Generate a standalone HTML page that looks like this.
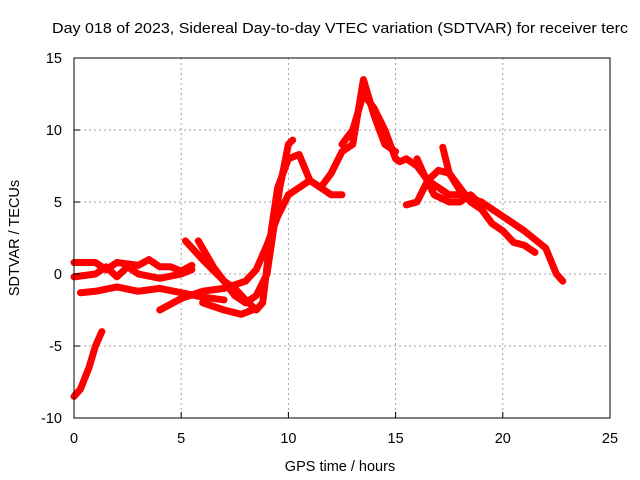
<!DOCTYPE html>
<html><head><meta charset="utf-8"><style>
body{margin:0;background:#fff;}
svg{display:block;font-family:"Liberation Sans",sans-serif;}
</style></head><body>
<svg id="chart" width="640" height="480" viewBox="0 0 640 480">
<text x="52" y="33" font-size="14.5" fill="#000" textLength="576" lengthAdjust="spacingAndGlyphs">Day 018 of 2023, Sidereal Day-to-day VTEC variation (SDTVAR) for receiver terc</text>
<g id="grid"></g>
<g id="series"></g>
<rect x="74" y="58" width="536" height="360" fill="none" stroke="#000" stroke-width="1"/>
<g id="ticks"></g>
<text x="340" y="471" font-size="14.5" text-anchor="middle">GPS time / hours</text>
<text transform="translate(19,238) rotate(-90)" font-size="14.5" text-anchor="middle">SDTVAR / TECUs</text>
</svg>
<script>
const xTicks=[0,5,10,15,20,25];
const yTicks=[-10,-5,0,5,10,15];
const series1=[[0,-8.5],[0.3,-8],[0.7,-6.5],[1.0,-5],[1.3,-4]];
const series2=[[0,0.8],[1,0.8],[1.5,0.3],[2,0.8],[3,0.6],[3.5,1],[4,0.5],[4.5,0.5],[5,0.2],[5.5,0.6]];
const series3=[[0,-0.2],[1,0],[1.5,0.5],[2,-0.2],[2.5,0.5],[3,0],[4,-0.3],[5,0],[5.5,0.3]];
const series4=[[0.3,-1.3],[1,-1.2],[2,-0.9],[3,-1.2],[4,-1.0],[5,-1.3],[6,-1.6],[7,-1.8]];
const series5=[[4,-2.5],[5,-1.7],[6,-1.2],[7,-1.0],[8,-0.5],[8.5,0.3],[9,2],[9.5,4],[10,5.5],[10.5,6],[11,6.5],[11.5,6],[12,5.5],[12.5,5.5]];
const series6=[[5.2,2.3],[6,1],[7,-0.5],[7.5,-1.5],[8,-2],[8.5,-1.5],[9,0],[9.3,3],[9.6,6],[10,9],[10.2,9.3]];
const series7=[[5.8,2.3],[6.5,0.5],[7,-0.5],[7.5,-1],[8,-1.8],[8.5,-2.5],[8.8,-2],[9.2,3],[9.5,6],[10,8],[10.5,8.3],[11,6.5],[11.5,6],[12,7],[12.5,8.5],[13,9],[13.5,13.5],[14,11],[14.5,9],[15,8.5]];
const series8=[[6,-2],[7,-2.5],[7.8,-2.8],[8.5,-2.4]];
const series9=[[12.5,9],[13,10],[13.5,12.5],[14,11.5],[14.5,10],[15,8],[15.2,7.8],[15.5,8],[16,7.5],[16.5,6.5],[17,6],[17.5,5.5],[18,5.5],[19,5],[20,4],[21,3],[22,1.8],[22.5,0],[22.8,-0.5]];
const series10=[[15.5,4.8],[16,5],[16.5,6.5],[17,7.2],[17.5,7],[18,6],[18.5,5],[19,4.5],[19.5,3.5],[20,3],[20.5,2.2],[21,2],[21.5,1.5]];
const series11=[[17.2,8.8],[17.5,7],[18,5.8]];
const series12=[[16,8],[16.3,7],[16.8,5.5],[17.5,5],[18,5],[18.5,5.5],[19,4.8]];
const allSeries=[series1,series2,series3,series4,series5,series6,series7,series8,series9,series10,series11,series12];
const X=v=>74+(v-0)*536/25;
const Y=v=>418-(v+10)*360/25;
const NS="http://www.w3.org/2000/svg";
const grid=document.getElementById('grid'),ticks=document.getElementById('ticks'),sg=document.getElementById('series');
function mk(t,a,p){const e=document.createElementNS(NS,t);for(const k in a)e.setAttribute(k,a[k]);p.appendChild(e);return e;}
xTicks.forEach(v=>{
 if(v>0&&v<25){const g=mk('line',{x1:X(v),x2:X(v),y1:58,y2:418,stroke:'#a0a0a0','stroke-dasharray':'2,3'},grid);
 
 }
 const t=mk('line',{x1:X(v),x2:X(v),y1:418,y2:412,stroke:'#000'},ticks);
 
 
 const l=mk('text',{x:X(v),y:443,'font-size':'14.5','text-anchor':'middle'},ticks);l.textContent=v;
 
 
});
yTicks.forEach(v=>{
 if(v>-10&&v<15){const g=mk('line',{x1:74,x2:610,y1:Y(v),y2:Y(v),stroke:'#a0a0a0','stroke-dasharray':'2,3'},grid);
 
 }
 const t=mk('line',{x1:74,x2:80,y1:Y(v),y2:Y(v),stroke:'#000'},ticks);
 
 
 const l=mk('text',{x:62,y:Y(v)+5,'font-size':'14.5','text-anchor':'end'},ticks);l.textContent=v;
 
 
});
allSeries.forEach((s,i)=>{
 const p=mk('polyline',{points:s.map(d=>X(d[0])+','+Y(d[1])).join(' '),fill:'none',stroke:'#ff0000','stroke-width':'7','stroke-linejoin':'round','stroke-linecap':'round'},sg);
 
 
});
</script>
</body></html>
